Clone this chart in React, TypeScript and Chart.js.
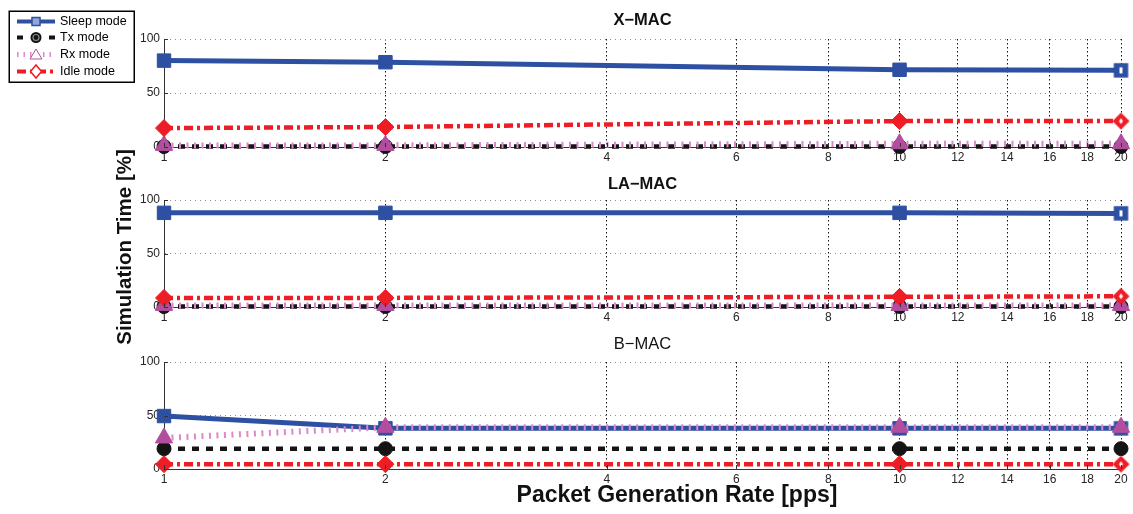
import React, { useEffect, useRef } from 'react';
import { Chart, registerables } from 'chart.js';

Chart.register(...registerables);
Chart.defaults.font.family = '"Liberation Sans", Arial, Helvetica, sans-serif';

// ---------------- data ----------------
const rates = [1, 2, 10, 20];
const xTickValues = [1, 2, 4, 6, 8, 10, 12, 14, 16, 18, 20];
const yTickValues = [0, 50, 100];
const modeNames = ['Sleep mode', 'Tx mode', 'Rx mode', 'Idle mode'];
const panelTitles = ['X\u2212MAC', 'LA\u2212MAC', 'B\u2212MAC'];
const xAxisTitle = 'Packet Generation Rate [pps]';
const yAxisTitle = 'Simulation Time [%]';

const xmacSleep = [80, 78.5, 71.5, 71];
const xmacTx = [0.5, 0.5, 0.5, 0.5];
const xmacRx = [1.5, 1.5, 3, 3];
const xmacIdle = [17.5, 18.5, 24, 24];

const lamacSleep = [88, 88, 88, 87.5];
const lamacTx = [0.5, 0.5, 0.5, 0.5];
const lamacRx = [1.5, 1.5, 1.5, 1.5];
const lamacIdle = [8.5, 8.5, 9.5, 10];

const bmacSleep = [49.5, 38, 38, 38];
const bmacTx = [19, 19, 19, 19];
const bmacRx = [29, 39, 39, 39];
const bmacIdle = [4.5, 4.5, 4.5, 4.5];

const panelSeries = [
  [xmacSleep, xmacTx, xmacRx, xmacIdle],
  [lamacSleep, lamacTx, lamacRx, lamacIdle],
  [bmacSleep, bmacTx, bmacRx, bmacIdle],
];

// ---------------- layout / style ----------------
const W = 1133;
const H = 514;
const PLOT_RIGHT = 1121;
const Y_AXIS_W = 40;
const PAD_LEFT = 124;
const X_AXIS_H = 20;
const TITLE_SIZE = 16.5;
const FONT = '"Liberation Sans", Arial, Helvetica, sans-serif';

const panelBoxes = [
  { titleY: 20, top: 39, bottom: 147, bold: true },
  { titleY: 184.5, top: 200, bottom: 307, bold: true },
  { titleY: 344, top: 362, bottom: 469, bold: false },
];

const BLUE = '#2E50A2';
const BLACK = '#141414';
const PURPLE = '#B24E9F';
const PINK = '#DC88CB';
const RED = '#EE1C24';

const seriesStyles = [
  { line: BLUE, width: 5, dash: [] as number[], point: 'rect', radius: 9.5, fill: BLUE, hollowLast: true },
  { line: BLACK, width: 4.5, dash: [7, 7], point: 'circle', radius: 7, fill: BLACK, hollowLast: false },
  { line: PINK, width: 6, dash: [2, 5.5], point: 'triangle', radius: 10, fill: PURPLE, hollowLast: false },
  { line: RED, width: 4.5, dash: [9, 4, 3, 4], point: 'rectRot', radius: 8.5, fill: RED, hollowLast: true },
];

function hollowMarker(kind: string, color: string, r: number): HTMLCanvasElement {
  const size = Math.ceil(2 * r + 4);
  const c = document.createElement('canvas');
  c.width = size;
  c.height = size;
  const g = c.getContext('2d') as CanvasRenderingContext2D;
  const m = size / 2;
  g.fillStyle = color;
  if (kind === 'rect') {
    const s = r * Math.SQRT1_2 + 0.5;
    g.fillRect(m - s, m - s, 2 * s, 2 * s);
    g.fillStyle = '#fff';
    g.fillRect(m - 1.5, m - 3, 3, 6);
  } else {
    g.beginPath();
    g.moveTo(m - r, m);
    g.lineTo(m, m - r);
    g.lineTo(m + r, m);
    g.lineTo(m, m + r);
    g.closePath();
    g.fill();
    g.fillStyle = '#fff';
    g.beginPath();
    g.moveTo(m - 2, m);
    g.lineTo(m, m - 3);
    g.lineTo(m + 2, m);
    g.lineTo(m, m + 3);
    g.closePath();
    g.fill();
  }
  return c;
}

const inwardTicks = {
  id: 'inwardTicks',
  afterDatasetsDraw(chart: any) {
    const { ctx, chartArea, scales } = chart;
    ctx.save();
    ctx.strokeStyle = '#333';
    ctx.lineWidth = 1;
    ctx.beginPath();
    xTickValues.forEach((v) => {
      const px = Math.round(scales.x.getPixelForValue(v)) + 0.5;
      ctx.moveTo(px, chartArea.bottom);
      ctx.lineTo(px, chartArea.bottom - 4);
    });
    yTickValues.forEach((v) => {
      const py = Math.round(scales.y.getPixelForValue(v)) + 0.5;
      ctx.moveTo(chartArea.left, py);
      ctx.lineTo(chartArea.left + 4, py);
    });
    ctx.stroke();
    ctx.restore();
  },
};

function drawLegendMarker(ctx: CanvasRenderingContext2D, k: number, x: number, y: number) {
  ctx.save();
  ctx.setLineDash([]);
  if (k === 0) {
    ctx.fillStyle = '#93A5D8';
    ctx.strokeStyle = BLUE;
    ctx.lineWidth = 1.5;
    ctx.fillRect(x - 4, y - 4, 8, 8);
    ctx.strokeRect(x - 4, y - 4, 8, 8);
  } else if (k === 1) {
    ctx.fillStyle = BLACK;
    ctx.beginPath();
    ctx.arc(x, y, 5.5, 0, Math.PI * 2);
    ctx.fill();
    ctx.strokeStyle = '#8a8a8a';
    ctx.lineWidth = 1.2;
    ctx.beginPath();
    ctx.arc(x, y, 3, 0, Math.PI * 2);
    ctx.stroke();
  } else if (k === 2) {
    ctx.fillStyle = '#fff';
    ctx.strokeStyle = PURPLE;
    ctx.lineWidth = 1;
    ctx.beginPath();
    ctx.moveTo(x, y - 5.5);
    ctx.lineTo(x + 6, y + 4.5);
    ctx.lineTo(x - 6, y + 4.5);
    ctx.closePath();
    ctx.fill();
    ctx.stroke();
  } else {
    ctx.fillStyle = '#fff';
    ctx.strokeStyle = RED;
    ctx.lineWidth = 1.5;
    ctx.beginPath();
    ctx.moveTo(x - 5.5, y);
    ctx.lineTo(x, y - 6.5);
    ctx.lineTo(x + 5.5, y);
    ctx.lineTo(x, y + 6.5);
    ctx.closePath();
    ctx.fill();
    ctx.stroke();
  }
  ctx.restore();
}

const legendPlugin = {
  id: 'boxLegend',
  afterDraw(chart: any) {
    const ctx = chart.ctx as CanvasRenderingContext2D;
    ctx.save();
    ctx.fillStyle = '#fff';
    ctx.fillRect(9, 11, 125, 71);
    ctx.strokeStyle = '#000';
    ctx.lineWidth = 1.5;
    ctx.strokeRect(9.25, 11.25, 125, 71);
    const rows = [21.5, 37.5, 54.5, 71.5];
    const legendDash = [[], [6, 26], [1.5, 5], [9, 4, 3, 4]];
    const legendWidth = [4, 4, 5, 4];
    modeNames.forEach((name, k) => {
      const y = rows[k];
      const st = seriesStyles[k];
      ctx.save();
      ctx.strokeStyle = st.line;
      ctx.lineWidth = legendWidth[k];
      ctx.setLineDash(legendDash[k]);
      ctx.beginPath();
      ctx.moveTo(17, y);
      ctx.lineTo(55, y);
      ctx.stroke();
      ctx.restore();
      drawLegendMarker(ctx, k, 36, y);
      ctx.fillStyle = '#000';
      ctx.font = '12.5px ' + FONT;
      ctx.textAlign = 'left';
      ctx.textBaseline = 'middle';
      ctx.fillText(name, 60, y + 0.5);
    });
    ctx.restore();
  },
};

const axisTitlesPlugin = {
  id: 'axisTitles',
  afterDraw(chart: any) {
    const ctx = chart.ctx as CanvasRenderingContext2D;
    ctx.save();
    ctx.fillStyle = '#111';
    ctx.textAlign = 'center';
    ctx.textBaseline = 'middle';
    ctx.font = 'bold 23px ' + FONT;
    ctx.fillText(xAxisTitle, 677, 496);
    ctx.font = 'bold 20.5px ' + FONT;
    ctx.translate(125, 247);
    ctx.rotate(-Math.PI / 2);
    ctx.fillText(yAxisTitle, 0, 0);
    ctx.restore();
  },
};

function makeConfig(p: number): any {
  const box = panelBoxes[p];
  const series = panelSeries[p];
  const titleLine = TITLE_SIZE * 1.2;
  const padTop = box.titleY - titleLine / 2;
  const titleGap = box.top - padTop - titleLine;
  const last = rates.length - 1;

  const datasets = series.map((vals, k) => {
    const st = seriesStyles[k];
    return {
      label: modeNames[k],
      data: rates.map((r, i) => ({ x: r, y: vals[i] })),
      borderColor: st.line,
      borderWidth: st.width,
      borderDash: st.dash,
      borderCapStyle: 'butt',
      pointStyle: rates.map((_, i) =>
        st.hollowLast && i === last ? hollowMarker(st.point, st.fill, st.radius) : st.point
      ),
      pointRadius: st.radius,
      pointBackgroundColor: st.fill,
      pointBorderColor: st.fill,
      pointBorderWidth: 1,
      tension: 0,
      fill: false,
      clip: false,
      order: 4 - k,
    };
  });

  const plugins: any[] = [inwardTicks];
  if (p === 0) plugins.push(legendPlugin);
  if (p === 2) plugins.push(axisTitlesPlugin);

  return {
    type: 'line',
    data: { datasets },
    plugins,
    options: {
      responsive: false,
      animation: false,
      devicePixelRatio: 1,
      events: [],
      layout: {
        padding: {
          left: PAD_LEFT,
          right: W - PLOT_RIGHT,
          top: padTop,
          bottom: H - box.bottom - X_AXIS_H,
        },
      },
      plugins: {
        legend: { display: false },
        tooltip: { enabled: false },
        title: {
          display: true,
          text: panelTitles[p],
          fullSize: false,
          color: '#111',
          font: { size: TITLE_SIZE, weight: box.bold ? 'bold' : 'normal', lineHeight: 1.2 },
          padding: { top: 0, bottom: titleGap },
        },
      },
      scales: {
        x: {
          type: 'logarithmic',
          min: 1,
          max: 20,
          afterBuildTicks: (s: any) => {
            s.ticks = xTickValues.map((v) => ({ value: v }));
          },
          afterFit: (s: any) => {
            s.height = X_AXIS_H;
          },
          ticks: {
            autoSkip: false,
            maxRotation: 0,
            padding: 3,
            color: '#262626',
            font: { size: 12 },
            callback: (v: any) => String(v),
          },
          grid: {
            color: (c: any) => (c.tick && c.tick.value === 1 ? 'rgba(0,0,0,0)' : '#111'),
            lineWidth: 1,
            drawTicks: false,
          },
          border: { display: true, color: '#333', width: 1, dash: [1.5, 2.5] },
        },
        y: {
          type: 'linear',
          min: 0,
          max: 100,
          afterBuildTicks: (s: any) => {
            s.ticks = yTickValues.map((v) => ({ value: v }));
          },
          afterFit: (s: any) => {
            s.width = Y_AXIS_W;
          },
          ticks: {
            padding: 4,
            color: '#262626',
            font: { size: 12 },
            callback: (v: any) => String(v),
          },
          grid: {
            color: (c: any) => (c.tick && c.tick.value === 0 ? 'rgba(0,0,0,0)' : '#8c8c8c'),
            lineWidth: 1,
            drawTicks: false,
          },
          border: { display: true, color: '#333', width: 1, dash: [1, 4] },
        },
      },
    },
  };
}

function Panel({ index }: { index: number }) {
  const ref = useRef<HTMLCanvasElement | null>(null);
  useEffect(() => {
    if (!ref.current) return;
    const chart = new Chart(ref.current, makeConfig(index));
    return () => chart.destroy();
  }, [index]);
  return (
    <canvas
      ref={ref}
      width={W}
      height={H}
      style={{ position: 'absolute', left: 0, top: 0, width: W, height: H }}
    />
  );
}

export default function App() {
  return (
    <div
      style={{
        position: 'absolute',
        left: 0,
        top: 0,
        width: W,
        height: H,
        background: '#fff',
        overflow: 'hidden',
      }}
    >
      <Panel index={0} />
      <Panel index={1} />
      <Panel index={2} />
    </div>
  );
}
